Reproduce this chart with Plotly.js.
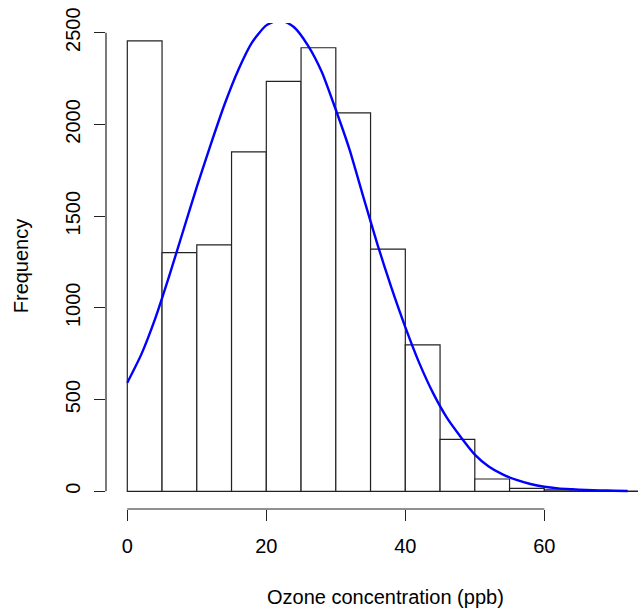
<!DOCTYPE html>
<html>
<head>
<meta charset="utf-8">
<script src="https://cdn.plot.ly/plotly-3.0.1.min.js"></script>
<style>html,body{margin:0;padding:0;background:#fff;}#chart{width:638px;height:612px;}</style>
</head>
<body>
<div id="chart"></div>
<script>
// Histogram bins (ppb) and counts
const binStarts = [0, 5, 10, 15, 20, 25, 30, 35, 40, 45, 50, 55, 60, 65, 70];
const binCounts = [2456, 1301, 1343, 1850, 2235, 2418, 2063, 1320, 798, 283, 67, 16, 8, 2, 1];
const binWidth = 5;

// Fitted normal curve
const curveX = [0, 2, 4, 6, 8, 10, 12, 14, 16, 18, 20, 22, 24, 26, 28, 30, 32, 34, 36, 38, 40, 42, 44, 46, 48, 50, 52, 54, 56, 58, 60, 62, 64, 66, 68, 70, 72];
const curveY = [592, 745, 940, 1170, 1415, 1660, 1890, 2110, 2300, 2450, 2540, 2570, 2530, 2430, 2285, 2080, 1860, 1600, 1345, 1110, 895, 700, 535, 400, 295, 200, 135, 92, 62, 40, 25, 16, 11, 7, 5, 3, 2];

const xTicks = [0, 20, 40, 60];
const yTicks = [0, 500, 1000, 1500, 2000, 2500];
const xTitle = 'Ozone concentration (ppb)';
const yTitle = 'Frequency';

const font = {family: '"Liberation Sans", Arial, sans-serif', size: 20, color: '#000'};

const barCenters = binStarts.map(s => s + binWidth / 2);

const traces = [
  {
    type: 'bar',
    x: barCenters,
    y: binCounts,
    width: binWidth,
    marker: {color: '#ffffff', line: {color: '#222', width: 1.2}},
    hoverinfo: 'skip',
    showlegend: false
  },
  {
    type: 'scatter',
    mode: 'lines',
    x: curveX,
    y: curveY,
    line: {color: '#0000ff', width: 2.4, shape: 'spline', smoothing: 0.6},
    hoverinfo: 'skip',
    showlegend: false
  }
];

const layout = {
  width: 638,
  height: 612,
  margin: {l: 106, r: 0, t: 23, b: 103, pad: 0},
  paper_bgcolor: '#fff',
  plot_bgcolor: '#fff',
  font: font,
  bargap: 0,
  xaxis: {
    range: [-3.065, 73.48],
    tickvals: xTicks,
    ticktext: xTicks.map(String),
    ticks: 'outside',
    ticklen: 11,
    tickwidth: 1.2,
    tickcolor: '#222',
    showgrid: false,
    zeroline: false,
    showline: false,
    tickfont: font,
    ticklabelstandoff: 8,
    automargin: false,
    fixedrange: true
  },
  yaxis: {
    range: [-96.5, 2553],
    tickvals: yTicks,
    ticktext: yTicks.map(String),
    ticks: 'outside',
    ticklen: 11,
    tickwidth: 1.2,
    tickcolor: '#222',
    tickangle: -90,
    showgrid: false,
    zeroline: false,
    showline: false,
    tickfont: font,
    ticklabelstandoff: 6,
    title: {text: yTitle, font: font, standoff: 28},
    automargin: false,
    fixedrange: true
  },
  annotations: [
    {text: xTitle, xref: 'paper', yref: 'paper', x: 0.526, y: -0.181, xanchor: 'center', yanchor: 'middle', showarrow: false, font: font}
  ],
  shapes: [
    {type: 'line', xref: 'paper', yref: 'y', x0: 0, x1: 0, y0: yTicks[0], y1: yTicks[yTicks.length - 1], line: {color: '#222', width: 1.2}},
    {type: 'line', xref: 'x', yref: 'paper', x0: xTicks[0], x1: xTicks[xTicks.length - 1], y0: 0, y1: 0, line: {color: '#222', width: 1.2}}
  ]
};

Plotly.newPlot('chart', traces, layout, {displayModeBar: false, staticPlot: true});
</script>
</body>
</html>
